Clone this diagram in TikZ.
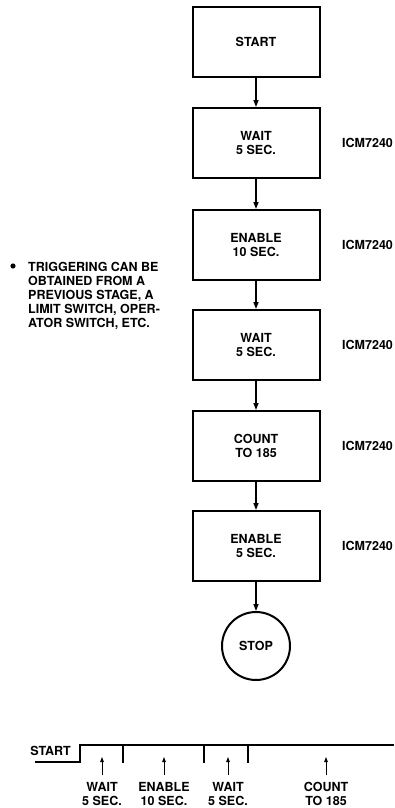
\documentclass[tikz,border=0pt]{standalone}
\usepackage{fontspec}
\setmainfont{TeX Gyre Heros}
\usepackage{tikz}
\usetikzlibrary{arrows.meta}

\begin{document}
\begin{tikzpicture}[x=1pt,y=-1pt,>={Triangle[length=7pt,width=5pt]},
    every node/.style={font=\bfseries\fontsize{12.5}{14}\selectfont},
    stepbox/.style={draw,line width=2pt,minimum width=127pt,minimum height=70pt,align=center,inner sep=0pt},
    flow/.style={->,line width=1.4pt},
    chip/.style={anchor=west,inner sep=0pt},
    tick/.style={->,line width=0.8pt,>={Triangle[length=5pt,width=3.6pt]}}]
    \useasboundingbox (0,0) rectangle (394,808);

    % Flow boxes
    \node[stepbox] (start) at (256,42) {START};
    \foreach \n/\t/\y in {wa/{WAIT\\5 SEC.}/143, en/{ENABLE\\10 SEC.}/245, wb/{WAIT\\5 SEC.}/345, co/{COUNT\\TO 185}/446, ec/{ENABLE\\5 SEC.}/546}
    {
        \node[stepbox] (\n) at (256,\y) {\t};
        \node[chip] (ic-\n) at (342,\y) {ICM7240};
    }
    \node[draw,circle,line width=2pt,minimum size=68pt,inner sep=0pt] (stop) at (256,646) {STOP};

    % Arrows
    \foreach \a/\b in {start/wa, wa/en, en/wb, wb/co, co/ec, ec/stop}
        \draw[flow] (\a) -- (\b);

    % Note
    \fill (13,266) circle (2.6);
    \node[anchor=north west,align=left,inner sep=0pt] (note) at (28,262)
        {TRIGGERING CAN BE\\OBTAINED FROM A\\PREVIOUS STAGE, A\\LIMIT SWITCH, OPER-\\ATOR SWITCH, ETC.};

    % Timing
    \draw[line width=2pt] (35,762) -- (80,762) -- (80,745) -- (394,745);
    \foreach \x in {123,204,248}
        \draw[line width=2.4pt] (\x,745) -- (\x,763);
    \node[anchor=east,inner sep=0pt] (st) at (71,751) {START};
    \foreach \n/\x/\t in {ta/102/{WAIT\\5 SEC.}, tb/164/{ENABLE\\10 SEC.}, tc/228/{WAIT\\5 SEC.}, td/326/{COUNT\\TO 185}}
    {
        \node[anchor=north,align=center,inner sep=0pt] (\n) at (\x,782) {\t};
        \draw[tick] ([yshift=7pt]\n.north) -- (\x,757);
    }
\end{tikzpicture}
\end{document}
